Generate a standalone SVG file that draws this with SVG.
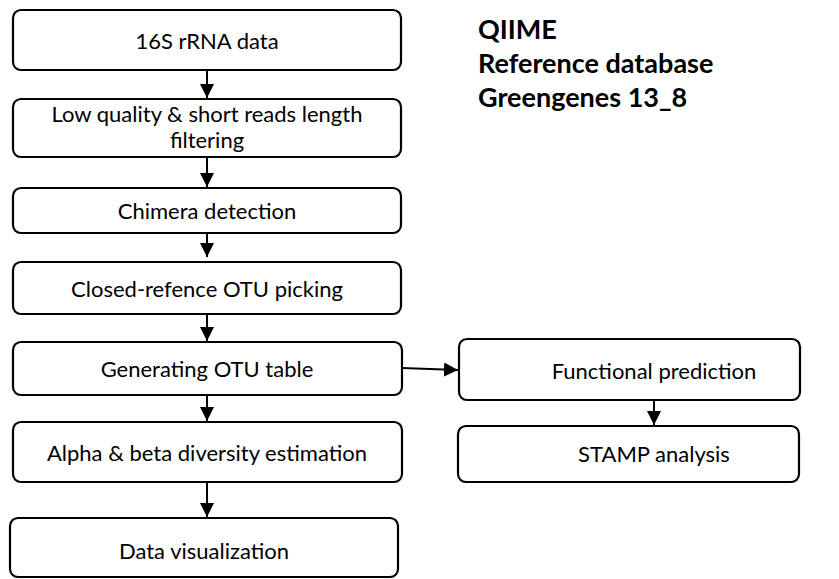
<svg xmlns="http://www.w3.org/2000/svg" width="839" height="579" viewBox="0 0 839 579">
  <defs>
    <marker id="arrow" viewBox="0 0 10 10" refX="10" refY="5" markerWidth="14" markerHeight="14" markerUnits="userSpaceOnUse" orient="auto">
      <path d="M0,0 L10,5 L0,10 z" fill="#000"/>
    </marker>
    <style>
      .box { fill: #fff; stroke: #000; stroke-width: 2.2; }
      .lbl { font-family: Lato, "Liberation Sans", sans-serif; font-size: 22px; fill: #000; text-anchor: middle; }
      .title { font-family: Lato, "Liberation Sans", sans-serif; font-size: 27px; font-weight: bold; fill: #000; }
      .conn { stroke: #000; stroke-width: 2; fill: none; }
    </style>
  </defs>
  <rect width="839" height="579" fill="#fff"/>

  <!-- pipeline steps -->
  <g id="n-16s">
    <rect class="box" x="13" y="10" width="388" height="60" rx="8"/>
    <text class="lbl" x="207" y="49">16S rRNA data</text>
  </g>
  <g id="n-filter">
    <rect class="box" x="13" y="99" width="388" height="58" rx="8"/>
    <text class="lbl" x="207" y="122">Low quality &amp; short reads length</text>
    <text class="lbl" x="207" y="148">filtering</text>
  </g>
  <g id="n-chimera">
    <rect class="box" x="13" y="188" width="388" height="45" rx="8"/>
    <text class="lbl" x="207" y="219">Chimera detection</text>
  </g>
  <g id="n-otu-pick">
    <rect class="box" x="13" y="262" width="388" height="52" rx="8"/>
    <text class="lbl" x="207" y="297">Closed-refence OTU picking</text>
  </g>
  <g id="n-otu-table">
    <rect class="box" x="13" y="342" width="389" height="53" rx="8"/>
    <text class="lbl" x="207" y="377">Generating OTU table</text>
  </g>
  <g id="n-diversity">
    <rect class="box" x="13" y="422" width="389" height="60" rx="8"/>
    <text class="lbl" x="207" y="461">Alpha &amp; beta diversity estimation</text>
  </g>
  <g id="n-visual">
    <rect class="box" x="10" y="518" width="388" height="59" rx="8"/>
    <text class="lbl" x="204" y="559">Data visualization</text>
  </g>
  <g id="n-function">
    <rect class="box" x="459" y="339" width="341" height="61" rx="8"/>
    <text class="lbl" x="654" y="379">Functional prediction</text>
  </g>
  <g id="n-stamp">
    <rect class="box" x="458" y="426" width="341" height="56" rx="8"/>
    <text class="lbl" x="654" y="462">STAMP analysis</text>
  </g>

  <!-- method notes -->
  <g id="n-notes">
    <text class="title" x="478" y="39">QIIME</text>
    <text class="title" x="478" y="73">Reference database</text>
    <text class="title" x="478" y="107">Greengenes 13_8</text>
  </g>

  <!-- connectors -->
  <g id="connectors">
    <line class="conn" x1="207" y1="70" x2="207" y2="98" marker-end="url(#arrow)"/>
    <line class="conn" x1="207" y1="157" x2="207" y2="187" marker-end="url(#arrow)"/>
    <line class="conn" x1="207" y1="233" x2="207" y2="257" marker-end="url(#arrow)"/>
    <line class="conn" x1="207" y1="314" x2="207" y2="341" marker-end="url(#arrow)"/>
    <line class="conn" x1="207" y1="395" x2="207" y2="421" marker-end="url(#arrow)"/>
    <line class="conn" x1="207" y1="482" x2="207" y2="517" marker-end="url(#arrow)"/>
    <line class="conn" x1="402" y1="368" x2="458" y2="370" marker-end="url(#arrow)"/>
    <line class="conn" x1="654" y1="400" x2="654" y2="425" marker-end="url(#arrow)"/>
  </g>
</svg>
